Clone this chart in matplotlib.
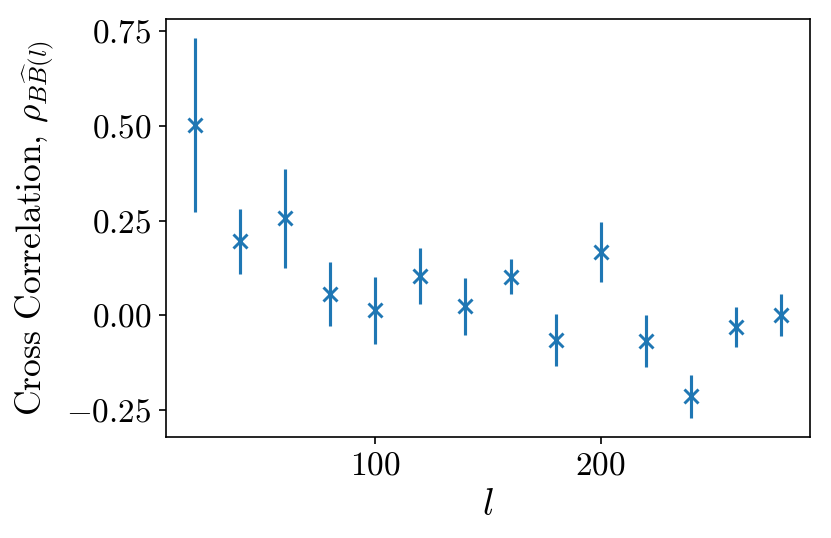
import matplotlib
matplotlib.use("Agg")
import matplotlib.pyplot as plt

plt.rcParams['font.family'] = ['cmr10', 'DejaVu Sans']
plt.rcParams['mathtext.fontset'] = 'cm'
plt.rcParams['axes.formatter.use_mathtext'] = True
plt.rcParams['axes.unicode_minus'] = True

ell = [20, 40, 60, 80, 100, 120, 140, 160, 180, 200, 220, 240, 260, 280]
rho = [0.502, 0.195, 0.256, 0.057, 0.013, 0.104, 0.024, 0.102, -0.066, 0.167, -0.068, -0.214, -0.031, 0.000]
err = [0.230, 0.085, 0.130, 0.085, 0.089, 0.074, 0.075, 0.047, 0.069, 0.080, 0.068, 0.057, 0.053, 0.055]

fig = plt.figure(figsize=(831/150, 538/150), dpi=150)
ax = fig.add_axes([166/831, 1-437/538, (810-166)/831, (437-19)/538])
ax.errorbar(ell, rho, yerr=err, fmt='x', color='#1f77b4', mew=1.4, ms=6.5)
ax.set_yticks([-0.25, 0.0, 0.25, 0.5, 0.75])
ax.set_yticklabels([r'$-0.25$', r'$0.00$', r'$0.25$', r'$0.50$', r'$0.75$'])
ax.set_xticks([100, 200])
ax.set_xticklabels([r'$100$', r'$200$'])
ax.tick_params(labelsize=16)
ax.set_xlabel(r'$l$', fontsize=18)
ax.set_ylabel(r'Cross Correlation, $\rho_{B\widehat{B}(l)}$', fontsize=17, labelpad=5)
fig.savefig('out.png', dpi=150)
